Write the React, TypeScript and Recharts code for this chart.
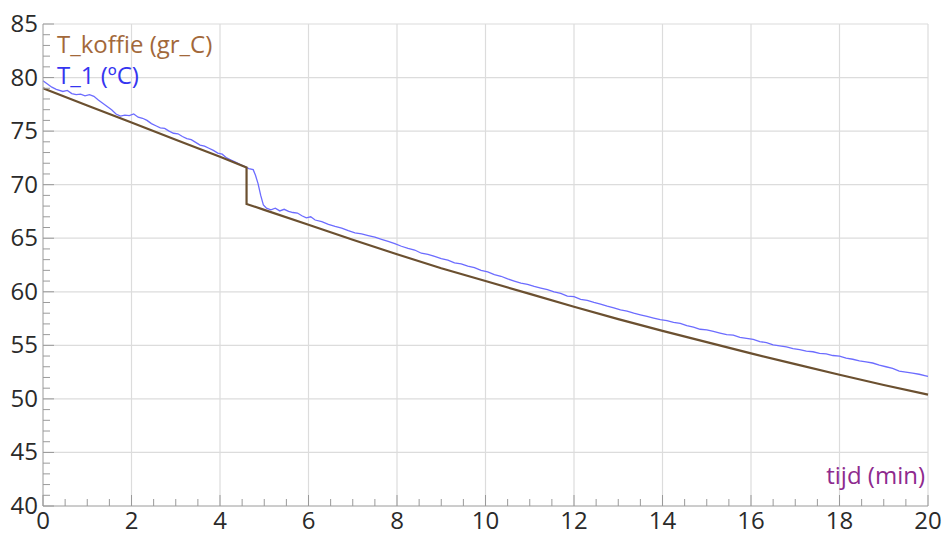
import React from 'react'
import { LineChart, Line, XAxis, YAxis, ReferenceLine } from 'recharts'

const COLORS = {
  koffie: '#6b5030',
  koffieText: '#a2683a',
  t1: '#6c6cff',
  t1Text: '#3535f0',
  tijd: '#8e2a8e',
  grid: '#dcdcdc',
  axis: '#9a9a9a',
  tickText: '#2a2a2a',
}

// T_koffie (gr_C)
const koffieTime = [0, 1, 2, 3, 4, 4.6, 4.6, 5, 6, 7, 8, 9, 10, 11, 12, 13, 14, 15, 16, 17, 18, 19, 20]
const koffieTemp = [79.0, 77.4, 75.8, 74.2, 72.6, 71.6, 68.2, 67.65, 66.25, 64.85, 63.5, 62.2, 61.0, 59.8, 58.6, 57.45, 56.35, 55.3, 54.25, 53.25, 52.25, 51.3, 50.4]

// T_1 (ºC)
const t1Time = [
  0, 0.1, 0.2, 0.3, 0.45, 0.55, 0.65, 0.75, 0.85, 0.95, 1.05, 1.15, 1.25, 1.35, 1.45, 1.55, 1.65, 1.75, 1.85, 1.95,
  2.05, 2.15, 2.25, 2.35, 2.45, 2.55, 2.65, 2.75, 2.85, 2.95, 3.05, 3.15, 3.25, 3.35, 3.45, 3.55, 3.65, 3.75, 3.85, 3.95,
  4.05, 4.15, 4.25, 4.35, 4.45, 4.55, 4.65, 4.75, 4.8, 4.86, 4.92, 4.98, 5.05, 5.15, 5.25, 5.35, 5.45, 5.55, 5.65, 5.75,
  5.85, 5.95, 6.05, 6.15, 6.3, 6.45, 6.6, 6.75, 6.9, 7.05, 7.2, 7.35, 7.5, 7.65, 7.8, 7.95, 8.1, 8.25, 8.4, 8.55,
  8.7, 8.85, 9.0, 9.15, 9.3, 9.45, 9.6, 9.75, 9.9, 10.05, 10.2, 10.35, 10.5, 10.65, 10.8, 10.95, 11.1, 11.25, 11.4, 11.55,
  11.7, 11.85, 12.0, 12.15, 12.3, 12.45, 12.6, 12.75, 12.9, 13.05, 13.2, 13.35, 13.5, 13.65, 13.8, 13.95, 14.1, 14.25, 14.4, 14.55,
  14.7, 14.85, 15.0, 15.15, 15.3, 15.45, 15.6, 15.75, 15.9, 16.05, 16.2, 16.35, 16.5, 16.65, 16.8, 16.95, 17.1, 17.25, 17.4, 17.55,
  17.7, 17.85, 18.0, 18.15, 18.3, 18.45, 18.6, 18.75, 18.9, 19.05, 19.2, 19.35, 19.5, 19.65, 19.8, 19.95, 20.0,
]
const t1Temp = [
  79.7, 79.4, 79.1, 78.9, 78.7, 78.8, 78.5, 78.4, 78.45, 78.3, 78.4, 78.25, 77.9, 77.6, 77.3, 77.0, 76.6, 76.4, 76.5, 76.45,
  76.6, 76.3, 76.2, 76.0, 75.7, 75.5, 75.3, 75.25, 75.0, 74.8, 74.75, 74.5, 74.3, 74.2, 73.95, 73.7, 73.6, 73.4, 73.2, 72.95,
  72.85, 72.5, 72.3, 72.1, 71.9, 71.7, 71.5, 71.4, 70.9, 70.1, 69.0, 68.1, 67.8, 67.65, 67.8, 67.55, 67.7, 67.5, 67.4, 67.35,
  67.1, 66.9, 67.0, 66.7, 66.55, 66.3, 66.1, 65.95, 65.7, 65.5, 65.4, 65.25, 65.1, 64.9, 64.7, 64.5, 64.25, 64.05, 63.9, 63.6,
  63.5, 63.3, 63.1, 62.95, 62.7, 62.6, 62.4, 62.25, 62.0, 61.85, 61.6, 61.45, 61.2, 61.0, 60.8, 60.7, 60.5, 60.35, 60.2, 60.0,
  59.85, 59.6, 59.55, 59.3, 59.2, 59.0, 58.85, 58.65, 58.5, 58.3, 58.2, 58.0, 57.85, 57.7, 57.55, 57.4, 57.3, 57.15, 57.05, 56.85,
  56.7, 56.5, 56.45, 56.3, 56.15, 56.0, 55.95, 55.75, 55.65, 55.55, 55.35, 55.25, 55.05, 54.95, 54.85, 54.7, 54.6, 54.45, 54.4, 54.25,
  54.2, 54.05, 54.0, 53.8, 53.7, 53.55, 53.45, 53.35, 53.15, 53.0, 52.85, 52.6, 52.5, 52.4, 52.3, 52.15, 52.1,
]

const xMajor = [0, 2, 4, 6, 8, 10, 12, 14, 16, 18, 20]
const yMajor = [40, 45, 50, 55, 60, 65, 70, 75, 80, 85]
const xMinor = Array.from({ length: 41 }, (_, i) => i * 0.5)
const yMinor = Array.from({ length: 46 }, (_, i) => 40 + i)

const koffieData = koffieTime.map((t, i) => ({ t, v: koffieTemp[i] }))
const t1Data = t1Time.map((t, i) => ({ t, v: t1Temp[i] }))

const FONT = '"Open Sans", sans-serif'

const XTick = ({ x, y, payload }: any) => {
  const major = xMajor.includes(payload.value)
  return (
    <g>
      <line x1={x} x2={x} y1={y} y2={y - (major ? 11 : 7)} stroke={COLORS.axis} />
      {major && (
        <text x={x} y={y + 23} textAnchor="middle" fontSize={24} fontFamily={FONT} fill={COLORS.tickText}>
          {payload.value}
        </text>
      )}
    </g>
  )
}

const YTick = ({ x, y, payload }: any) => {
  const major = yMajor.includes(payload.value)
  return (
    <g>
      <line x1={x} x2={x + (major ? 11 : 7)} y1={y} y2={y} stroke={COLORS.axis} />
      {major && (
        <text x={x - 5} y={y + 8} textAnchor="end" fontSize={24} fontFamily={FONT} fill={COLORS.tickText}>
          {payload.value}
        </text>
      )}
    </g>
  )
}

export default function App() {
  return (
    <div style={{ position: 'absolute', left: 0, top: 0, width: 942, height: 536, background: '#fff' }}>
      <LineChart width={942} height={536} margin={{ top: 24, right: 14, bottom: 0, left: 0 }}>
        <XAxis
          type="number"
          dataKey="t"
          domain={[0, 20]}
          ticks={xMinor}
          interval={0}
          height={30}
          tickSize={0}
          tickMargin={0}
          tickLine={false}
          axisLine={{ stroke: COLORS.axis }}
          tick={<XTick />}
        />
        <YAxis
          type="number"
          domain={[40, 85]}
          ticks={yMinor}
          interval={0}
          width={43}
          tickSize={0}
          tickMargin={0}
          tickLine={false}
          axisLine={{ stroke: COLORS.axis }}
          tick={<YTick />}
        />
        {xMajor.slice(1).map((v) => (
          <ReferenceLine key={'gx' + v} x={v} stroke={COLORS.grid} strokeWidth={1.2} />
        ))}
        {yMajor.slice(1).map((v) => (
          <ReferenceLine key={'gy' + v} y={v} stroke={COLORS.grid} strokeWidth={1.2} />
        ))}
        <Line
          data={t1Data}
          dataKey="v"
          type="linear"
          stroke={COLORS.t1}
          strokeWidth={1.3}
          dot={false}
          isAnimationActive={false}
        />
        <Line
          data={koffieData}
          dataKey="v"
          type="linear"
          stroke={COLORS.koffie}
          strokeWidth={2.2}
          dot={false}
          isAnimationActive={false}
        />
      </LineChart>
      <svg width={942} height={536} style={{ position: 'absolute', left: 0, top: 0, pointerEvents: 'none' }}>
        <text x={57} y={53} fontSize={24} fontFamily={FONT} fill={COLORS.koffieText}>T_koffie (gr_C)</text>
        <text x={57} y={84} fontSize={24} fontFamily={FONT} fill={COLORS.t1Text}>T_1 (ºC)</text>
        <text x={925} y={484} textAnchor="end" fontSize={24} fontFamily={FONT} fill={COLORS.tijd}>tijd (min)</text>
      </svg>
    </div>
  )
}
